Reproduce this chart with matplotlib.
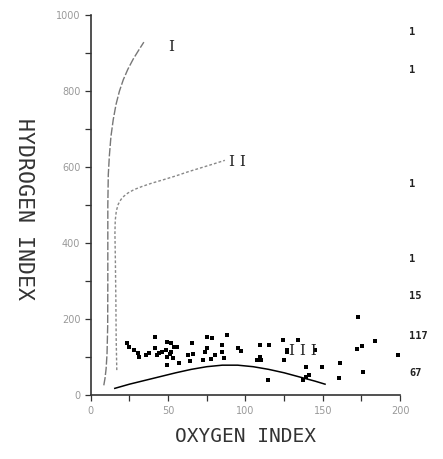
import matplotlib.pyplot as plt

# kerogen type boundary curves (oxygen index, hydrogen index)
type1_oi = [8.4, 9.2, 9.9, 10.5, 10.9, 11.0, 11.0, 11.3, 12.0, 13.0, 14.5,
            16.3, 18.5, 21.0, 24.0, 27.5, 31.0, 34.3]
type1_hi = [26, 45, 70, 110, 180, 300, 500, 580, 630, 680, 725,
            765, 800, 830, 858, 885, 908, 929]

type2_oi = [16.8, 16.4, 16.2, 15.9, 15.6, 15.8, 16.5, 17.8, 19.5, 21.5,
            24.0, 28.0, 33.0, 39.5, 47.0, 55.0, 63.0, 71.0, 79.0, 86.7]
type2_hi = [66, 150, 250, 350, 426, 460, 485, 503, 515, 524,
            532, 541, 549, 558, 567, 577, 588, 598, 608, 618]

type3_oi = [15.5, 25, 35, 45, 55, 65, 75, 85, 95, 105, 115, 125, 135,
            145, 151.5]
type3_hi = [18, 29, 39, 49, 59, 68, 75, 79, 79, 75, 68, 59, 48, 37, 29]

# samples
sample_oi = [23.6, 25, 27.8, 30.3, 31, 35.6, 37.5, 41.4, 41.4, 42.7, 44, 46, 48.5,
             49, 51.8, 53.7, 49, 51, 51.8, 53, 49, 56, 57, 63, 64, 65.7, 66.3,
             75.1, 75.1, 74, 80, 78, 78.6, 72.5, 88, 85, 85, 86, 95, 97.1,
             107.4, 109.3, 109.3, 110, 115, 124, 127, 127.2, 125, 134, 139,
             145, 149.5, 114.6, 137, 139, 141, 172.8, 161, 160.5, 172.1,
             175.4, 183.8, 176, 198.7]
sample_hi = [137, 126, 118, 110, 100, 105, 110, 153, 124, 105, 110, 113, 118,
             139, 137, 126, 100, 108, 113, 97, 79, 126, 84, 105, 89, 137, 108,
             153, 124, 113, 105, 95, 150, 92, 158, 131, 113, 97, 124, 116,
             92, 131, 100, 92, 132, 145, 118, 113, 92, 145, 74, 118, 74, 39,
             39, 47, 53, 205, 84, 45, 121, 129, 142, 61, 105]

type_labels = ["I", "I I", "I I I"]
type_label_pos = [(52, 916), (95, 613), (137, 116)]

side_numbers = ["1", "1", "1", "1", "15", "117", "67"]
side_hi = [955, 855, 555, 358, 260, 155, 58]

fig = plt.figure(figsize=(4.43, 4.59), dpi=100)
ax = fig.add_axes([0.205, 0.139, 0.698, 0.828])

ax.plot(type1_oi, type1_hi, color="#777777", lw=1.0, ls=(0, (6, 1.5)))
ax.plot(type2_oi, type2_hi, color="#888888", lw=1.0, ls=(0, (2, 1.5)))
ax.plot(type3_oi, type3_hi, color="black", lw=1.1)
ax.scatter(sample_oi, sample_hi, marker="s", s=10, color="black", lw=0)

for lab, (x, y) in zip(type_labels, type_label_pos):
    ax.text(x, y, lab, family="DejaVu Serif", fontsize=11, ha="center",
            va="center", color="#222222")

for lab, y in zip(side_numbers, side_hi):
    ax.text(206, y, lab, family="DejaVu Sans Mono", fontsize=7.5, ha="left",
            va="center", color="#222222", fontweight="bold", clip_on=False)

ax.set_xlim(0, 200)
ax.set_ylim(0, 1000)
ax.set_xticks(range(0, 201, 25))
ax.set_xticklabels(["0", "", "50", "", "100", "", "150", "", "200"])
ax.set_yticks(range(0, 1001, 100))
ax.set_yticklabels(["0", "", "200", "", "400", "", "600", "", "800", "", "1000"])
ax.tick_params(direction="out", length=4, width=0.9, labelsize=7,
               labelcolor="#999999", color="#333333")

for side in ["top", "right"]:
    ax.spines[side].set_visible(False)
for side in ["left", "bottom"]:
    ax.spines[side].set_color("#333333")
    ax.spines[side].set_linewidth(1.2)

ax.set_xlabel("OXYGEN INDEX", family="DejaVu Sans Mono", fontsize=14,
              color="#333333", labelpad=8)
ax.set_ylabel("HYDROGEN INDEX", family="DejaVu Sans Mono", fontsize=15.5,
              color="#333333", rotation=270)
ax.yaxis.set_label_coords(-0.25, 0.49)

fig.savefig("out.png")
